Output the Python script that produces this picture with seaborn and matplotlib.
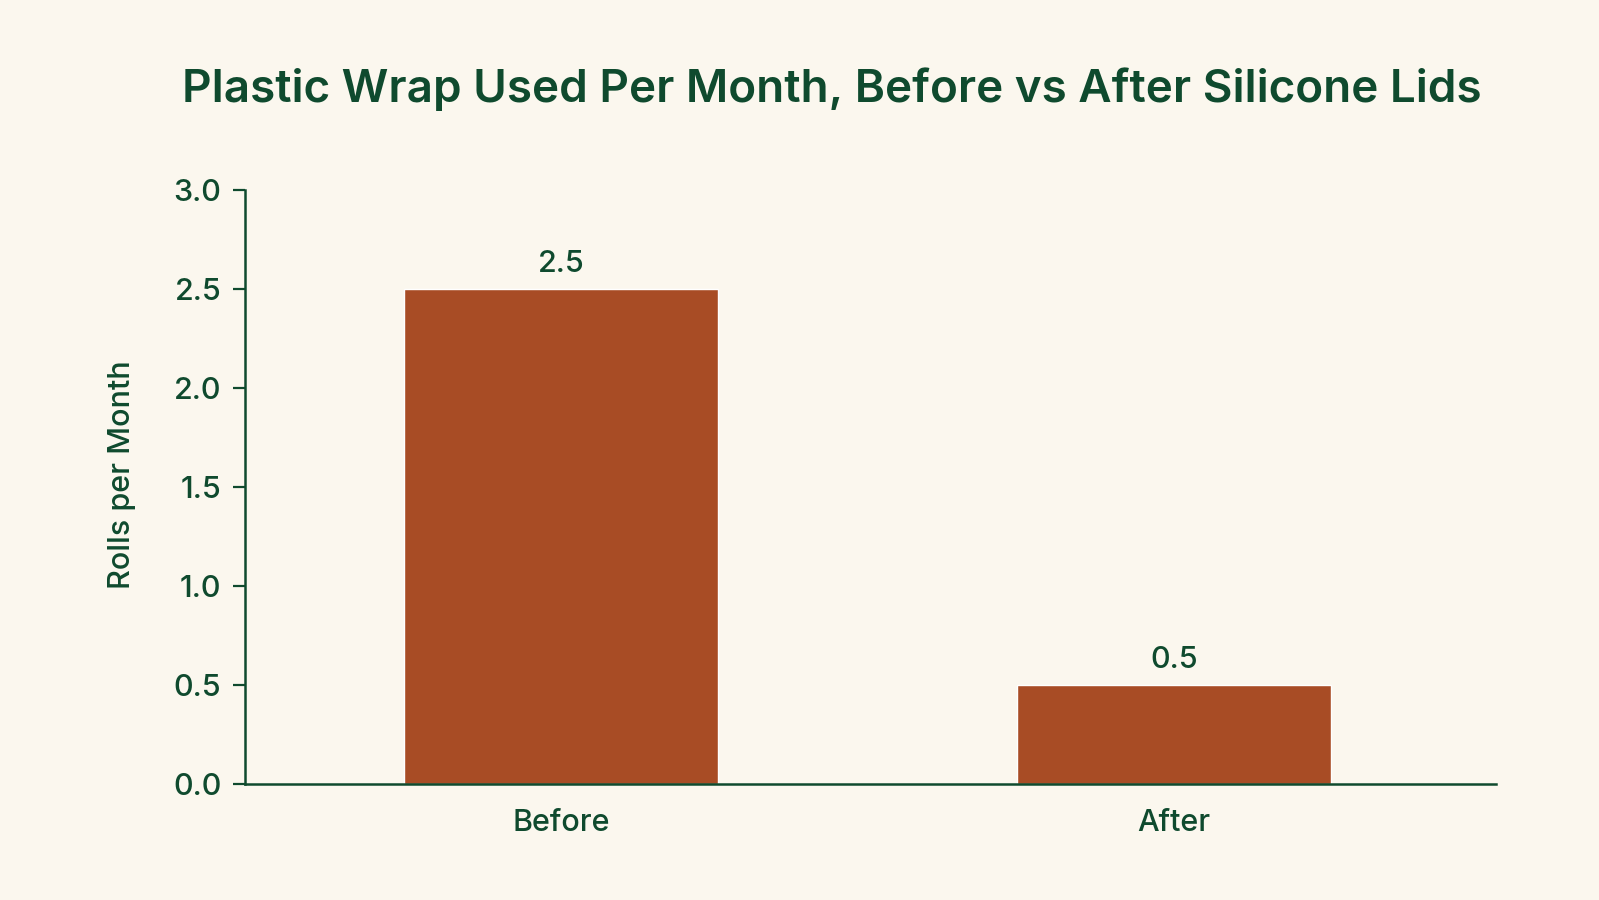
import pandas as pd
import matplotlib
matplotlib.use("Agg")
import matplotlib.pyplot as plt
import seaborn as sns

# data
periods = ["Before", "After"]
rolls_per_month = [2.5, 0.5]

BG = "#FBF7EE"
INK = "#0F4A2E"
BAR = "#A84C25"


def create_plot():
    df = pd.DataFrame({"period": periods, "rolls": rolls_per_month})

    sns.set_theme(style="ticks")
    plt.rcParams["font.family"] = ["Inter", "DejaVu Sans"]

    fig = plt.figure(figsize=(15.99, 9.0), dpi=100, facecolor=BG)
    ax = fig.add_axes([0.1532, 0.1289, 0.7824, 0.66])
    ax.set_facecolor(BG)

    sns.barplot(data=df, x="period", y="rolls", color=BAR, width=0.513,
                saturation=1, ax=ax)

    for p, v in zip(ax.patches, rolls_per_month):
        ax.text(p.get_x() + p.get_width() / 2, v + 0.055, f"{v:.1f}",
                ha="center", va="bottom", fontsize=22, color=INK,
                fontweight="medium")

    ax.set_xlim(-0.516, 1.526)
    ax.set_ylim(0, 3.0)
    ax.set_yticks([0, 0.5, 1.0, 1.5, 2.0, 2.5, 3.0])
    ax.set_yticklabels([f"{t:.1f}" for t in ax.get_yticks()])

    ax.set_xlabel("")
    ax.set_ylabel("Rolls per Month", fontsize=22, color=INK,
                  fontweight="medium")
    ax.yaxis.set_label_coords(-0.087, 0.52)
    ax.tick_params(axis="y", colors=INK, labelsize=22, length=9, width=1.6,
                   pad=8)
    ax.tick_params(axis="x", colors=INK, labelsize=22, length=0, pad=18)
    for lbl in ax.get_xticklabels() + ax.get_yticklabels():
        lbl.set_color(INK)
        lbl.set_fontweight("medium")

    sns.despine(ax=ax)
    for side in ["left", "bottom"]:
        ax.spines[side].set_color(INK)
        ax.spines[side].set_linewidth(1.8)

    fig.text(0.520, 0.901, "Plastic Wrap Used Per Month, Before vs After Silicone Lids",
             ha="center", va="center", fontsize=33, fontweight="semibold",
             color=INK)
    return fig


def main():
    fig = create_plot()
    fig.savefig("out.png", dpi=100, facecolor=BG)


if __name__ == "__main__":
    main()
